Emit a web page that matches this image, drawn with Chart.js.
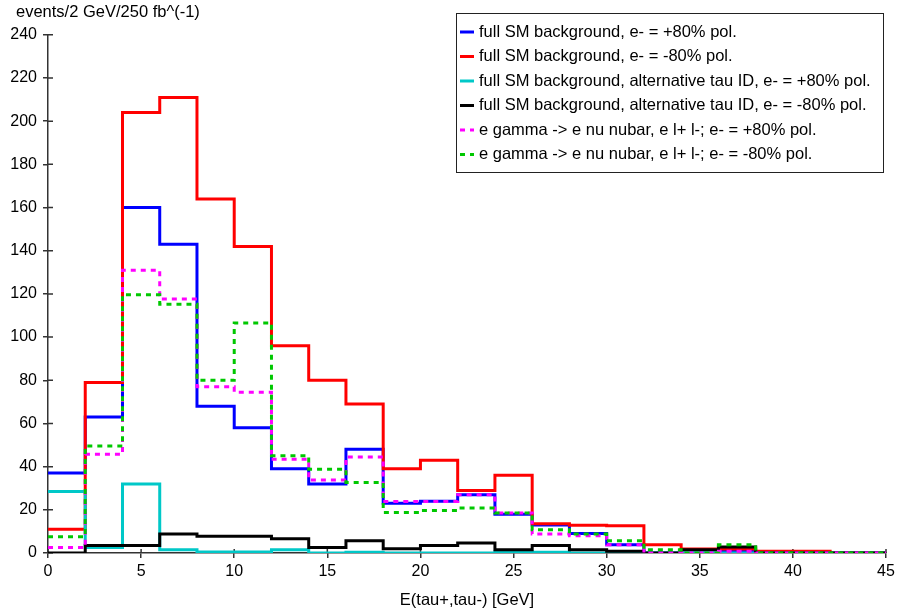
<!DOCTYPE html>
<html>
<head>
<meta charset="utf-8">
<script src="https://cdn.jsdelivr.net/npm/chart.js@4/dist/chart.umd.min.js"></script>
<style>
  body { margin: 0; background: #fff; }
  #wrap { width: 901px; height: 612px; }
</style>
</head>
<body>
<div id="wrap"><canvas id="hist"></canvas></div>
<script>
// bin edges in GeV (2 GeV bins)
const binEdges = [0, 2, 4, 6, 8, 10, 12, 14, 16, 18, 20, 22, 24, 26, 28, 30, 32, 34, 36, 38, 40, 42, 44, 46];

const xTicks = [0, 5, 10, 15, 20, 25, 30, 35, 40, 45];
const yTicks = [0, 20, 40, 60, 80, 100, 120, 140, 160, 180, 200, 220, 240];

// events per bin
const smPlus80 = [37, 63, 160, 143, 68, 58, 39, 32, 48, 23, 24, 27, 18, 13, 9, 3.8, 0, 0, 0.8, 0, 0, 0, 0];
const smMinus80 = [11, 79, 204, 211, 164, 142, 96, 80, 69, 39, 43, 29, 36, 13.6, 12.8, 12.6, 3.8, 1.8, 1.8, 0.8, 0.8, 0, 0];
const altPlus80 = [28.5, 2.5, 32, 1.5, 0.5, 0.5, 1.5, 0, 0.3, 0, 0, 0, 0.5, 0.3, 0, 0, 0, 0, 0, 0, 0, 0, 0];
const altMinus80 = [0, 3.5, 3.5, 8.8, 7.7, 7.7, 6.6, 2.6, 5.7, 2, 3.5, 4.6, 1.5, 3.5, 1.5, 0.8, 0, 1.5, 2.8, 0, 0, 0, 0];
const egPlus80 = [2.6, 45.7, 131, 117.6, 77, 74.5, 43.4, 33.8, 44.5, 23.9, 23.9, 27, 18.5, 8.8, 8, 3.8, 0, 0, 0.8, 0, 0, 0, 0];
const egMinus80 = [7.5, 49.5, 119.6, 115.2, 80, 106.5, 45, 38.8, 32.6, 18.8, 19.7, 20.8, 18.5, 10.8, 8.8, 5.7, 1.5, 0, 3.8, 0, 0, 0, 0];

const labels = [
  'full SM background, e- = +80% pol.',
  'full SM background, e- = -80% pol.',
  'full SM background, alternative tau ID, e- = +80% pol.',
  'full SM background, alternative tau ID, e- = -80% pol.',
  'e gamma -> e nu nubar, e l+ l-; e- = +80% pol.',
  'e gamma -> e nu nubar, e l+ l-; e- = -80% pol.'
];

const FONT = '"Liberation Sans", Arial, sans-serif';

function steps(vals) {
  return binEdges.map((x, i) => ({ x: x, y: vals[Math.min(i, vals.length - 1)] }));
}

function ds(label, vals, color, dash, order) {
  return {
    label: label,
    data: steps(vals),
    borderColor: color,
    backgroundColor: color,
    borderWidth: 3,
    borderDash: dash,
    stepped: true,
    pointRadius: 0,
    fill: false,
    order: order
  };
}

// ticks that cross the axes, and room for the y labels
const crossTicks = {
  id: 'crossTicks',
  afterLayout(chart) {
    chart.scales.y.left = 0; // labels get clipped to the scale box otherwise
  },
  beforeDatasetsDraw(chart) {
    const { ctx, chartArea } = chart;
    const xs = chart.scales.x, ys = chart.scales.y;
    ctx.save();
    ctx.strokeStyle = '#333';
    ctx.lineWidth = 1.5;
    ctx.beginPath();
    yTicks.forEach(v => {
      const y = ys.getPixelForValue(v);
      ctx.moveTo(chartArea.left, y);
      ctx.lineTo(chartArea.left + 5, y);
    });
    xTicks.forEach(v => {
      const x = xs.getPixelForValue(v);
      ctx.moveTo(x, chartArea.bottom);
      ctx.lineTo(x, chartArea.bottom - 4);
    });
    ctx.stroke();
    ctx.restore();
  }
};

// boxed legend in the top right corner
const boxLegend = {
  id: 'boxLegend',
  afterDatasetsDraw(chart) {
    const ctx = chart.ctx;
    const left = 456, top = 13, right = 883, bottom = 172;
    ctx.save();
    ctx.fillStyle = '#fff';
    ctx.fillRect(left, top, right - left, bottom - top);
    ctx.strokeStyle = '#222';
    ctx.lineWidth = 1;
    ctx.strokeRect(left + 0.5, top + 0.5, right - left, bottom - top);
    ctx.font = '16.5px ' + FONT;
    ctx.textBaseline = 'middle';
    chart.data.datasets.forEach((d, i) => {
      const y = 32 + i * 24.5;
      ctx.strokeStyle = d.borderColor;
      ctx.lineWidth = 3;
      ctx.setLineDash(d.borderDash || []);
      ctx.beginPath();
      ctx.moveTo(460, y);
      ctx.lineTo(474, y);
      ctx.stroke();
      ctx.setLineDash([]);
      ctx.fillStyle = '#000';
      ctx.fillText(d.label, 479, y);
    });
    ctx.restore();
  }
};

new Chart(document.getElementById('hist'), {
  type: 'line',
  data: {
    datasets: [
      ds(labels[0], smPlus80, '#0000ff', [], 6),
      ds(labels[1], smMinus80, '#ff0000', [], 5),
      ds(labels[2], altPlus80, '#00c8c8', [], 4),
      ds(labels[3], altMinus80, '#000000', [], 3),
      ds(labels[4], egPlus80, '#ff00ff', [5, 5], 2),
      ds(labels[5], egMinus80, '#00c800', [5, 5], 1)
    ]
  },
  options: {
    responsive: true,
    maintainAspectRatio: false,
    animation: false,
    layout: { padding: { left: 16, right: 15, top: 0, bottom: 0 } },
    plugins: {
      legend: { display: false },
      tooltip: { enabled: false },
      title: {
        display: true,
        text: 'events/2 GeV/250 fb^(-1)',
        align: 'start',
        color: '#000',
        font: { family: FONT, size: 16.5, weight: 'normal' },
        padding: { top: 3, bottom: 12 }
      }
    },
    scales: {
      x: {
        type: 'linear',
        min: 0,
        max: 45,
        afterBuildTicks(scale) { scale.ticks = xTicks.map(v => ({ value: v })); },
        afterFit(scale) { scale.height = 59; },
        grid: { drawOnChartArea: false, drawTicks: true, tickLength: 5, color: '#333', lineWidth: 1.5 },
        border: { color: '#333', width: 1.5 },
        ticks: { color: '#000', padding: 4, maxRotation: 0, font: { family: FONT, size: 16 } },
        title: {
          display: true,
          text: 'E(tau+,tau-) [GeV]',
          color: '#000',
          font: { family: FONT, size: 16.5 },
          padding: { top: 0, bottom: 2 }
        }
      },
      y: {
        min: 0,
        max: 240,
        afterBuildTicks(scale) { scale.ticks = yTicks.map(v => ({ value: v })); },
        afterFit(scale) { scale.width = 32; },
        grid: { drawOnChartArea: false, drawTicks: true, tickLength: 5, color: '#333', lineWidth: 1.5 },
        border: { color: '#333', width: 1.5 },
        ticks: { color: '#000', padding: 6, font: { family: FONT, size: 16 } }
      }
    }
  },
  plugins: [crossTicks, boxLegend]
});
</script>
</body>
</html>
